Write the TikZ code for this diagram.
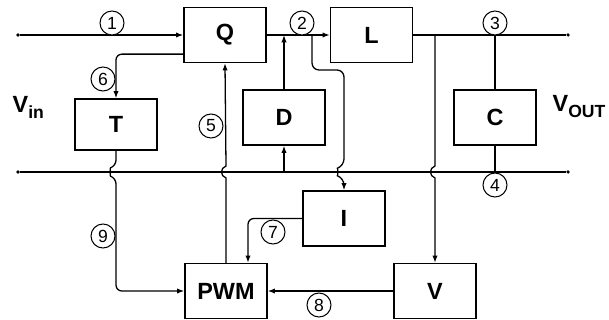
\documentclass[tikz,border=0pt]{standalone}
\usepackage{fontspec}
\setmainfont{Liberation Sans}
\usetikzlibrary{arrows.meta, positioning}

\begin{document}
\begin{tikzpicture}[
  x=0.03cm, y=-0.03cm,
  line width=1.1pt,
  blk/.style={draw, line width=1.1pt, minimum width=2.46cm, minimum height=1.65cm,
              font=\fontsize{20}{20}\selectfont\bfseries, inner sep=0pt},
  num/.style={draw, circle, line width=0.9pt, minimum size=0.72cm, inner sep=0pt,
              font=\fontsize{15}{15}\selectfont, fill=white},
  lbl/.style={font=\fontsize{20}{20}\selectfont\bfseries, inner sep=0pt},
  a/.style={-{Latex[length=2.2mm, width=1.6mm]}},
  dot/.style={circle, fill, inner sep=0pt, minimum size=3pt}
]
\useasboundingbox (0,0) rectangle (609,320);

% blocks
\node[blk] (q) at (225,35) {Q};
\node[blk] (l) at (371.5,35) {L};
\node[blk, minimum height=1.53cm] (t) at (116,124.5) {T};
\node[blk] (d) at (284,117.5) {D};
\node[blk] (c) at (495,117.5) {C};
\node[blk] (ibox) at (344,218.5) {I};
\node[blk] (pwm) at (226,291) {PWM};
\node[blk] (vbox) at (435,291) {V};

% rails
\node[dot] (inhi) at (18,35) {};
\node[dot] (outhi) at (568,35) {};
\node[dot] (inlo) at (18,172) {};
\node[dot] (outlo) at (568,172) {};
\coordinate (tap2) at (312,35);

\draw[a] (inhi) -- (q.west);
\draw[a] (q.east) -- (l.west);
\draw (l.east) -- (outhi);
\draw (inlo) -- (outlo);

% connectors
\draw[a, rounded corners=5pt] ([yshift=0.27cm]q.south west) -| (t.north);
\draw[a, rounded corners=5pt] (t.south) -- (116,166) .. controls (110,168) and (110,176) .. (116,178) |- (pwm.west);
\draw[a] (pwm.north) -- (226,178) .. controls (220,176) and (220,168) .. (226,166) -- (q.south);
\draw[a] (d.north) -- (d.north |- inhi);
\draw[a] (d.south |- inlo) -- (d.south);
\draw[a, rounded corners=6pt] (tap2) -- (312,70) -- (344,70) -- (344,166) .. controls (338,168) and (338,176) .. (344,178) -- (ibox.north);
\draw[a] (vbox.north |- inhi) -- (435,166) .. controls (429,168) and (429,176) .. (435,178) -- (vbox.north);
\draw (c.north |- inhi) -- (c.north);
\draw (c.south) -- (c.south |- inlo);
\draw[a, rounded corners=5pt] (ibox.west) -| ([xshift=0.66cm]pwm.north);
\draw[a] (vbox.west) -- (pwm.east);

% numbers
\node[num] (n1) at (112,23) {1};
\node[num] (n2) at (302,23) {2};
\node[num] (n3) at (495,23) {3};
\node[num] (n4) at (495,185) {4};
\node[num] (n5) at (211,126) {5};
\node[num] (n6) at (103,79) {6};
\node[num] (n7) at (273,232) {7};
\node[num] (n8) at (319,305) {8};
\node[num] (n9) at (103,236) {9};

% terminals
\node[lbl, anchor=base west] (vin) at (12,113) {V\raisebox{-4.3pt}{\fontsize{15}{15}\selectfont in}};
\node[lbl, anchor=base west] (vout) at (552,112) {V\raisebox{-4.3pt}{\fontsize{15}{15}\selectfont OUT}};
\end{tikzpicture}
\end{document}
